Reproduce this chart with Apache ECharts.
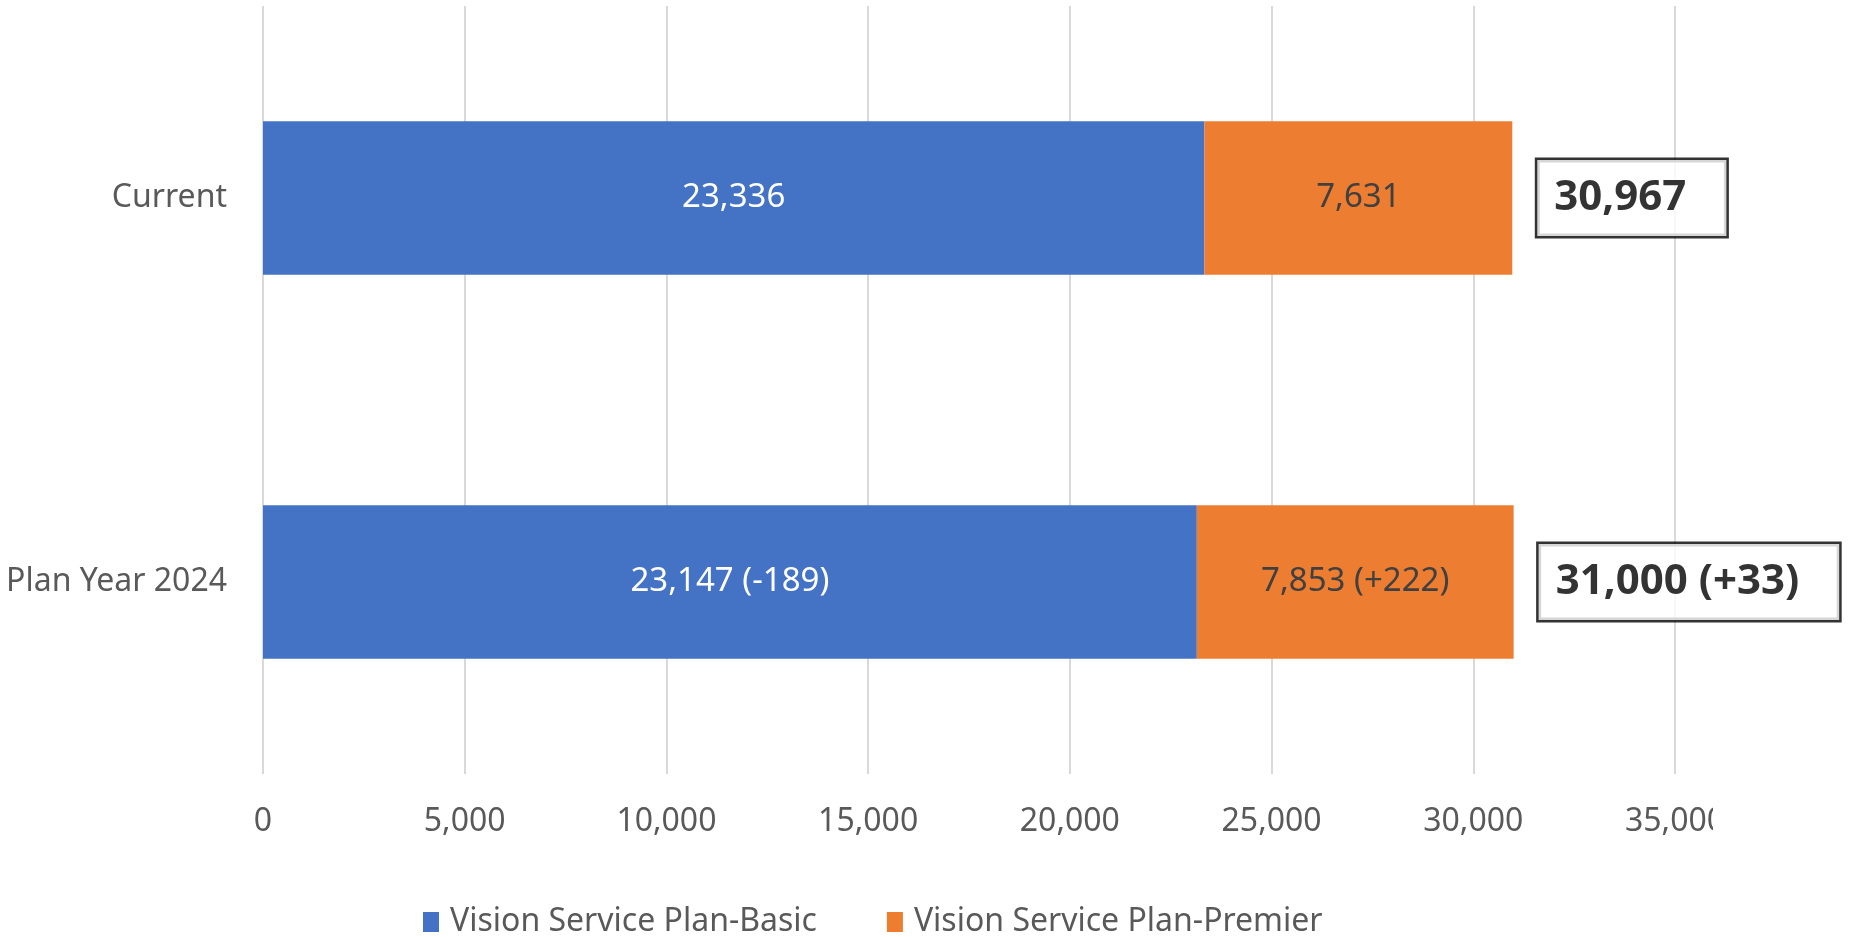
<!DOCTYPE html>
<html>
<head>
<meta charset="utf-8">
<script src="https://cdn.jsdelivr.net/npm/echarts@6/dist/echarts.min.js"></script>
<style>
html,body{margin:0;padding:0;background:#fff;}
#chart{width:1852px;height:937px;}
</style>
</head>
<body>
<div id="chart"></div>
<script>
const categories = ['Current', 'Plan Year 2024'];
const basicValues = [23336, 23147];
const premierValues = [7631, 7853];
const seriesNames = ['Vision Service Plan-Basic', 'Vision Service Plan-Premier'];
const xTicks = [0, 5000, 10000, 15000, 20000, 25000, 30000, 35000];

const fmt = v => v.toLocaleString('en-US');
const delta = (arr, i) => {
  if (i === 0) return '';
  const d = arr[i] - arr[0];
  return ' (' + (d > 0 ? '+' : '') + fmt(d) + ')';
};
const totals = basicValues.map((v, i) => v + premierValues[i]);

const FONT = '"Noto Sans", "Open Sans", sans-serif';
const chart = echarts.init(document.getElementById('chart'));
chart.setOption({
  animation: false,
  backgroundColor: '#ffffff',
  grid: { left: 263, right: 177, top: 6, bottom: 163, containLabel: false },
  legend: {
    data: seriesNames,
    left: 418,
    top: 901,
    icon: 'rect',
    itemWidth: 16,
    itemHeight: 20,
    itemGap: 70,
    textStyle: { fontFamily: FONT, fontSize: 32, color: '#595959', padding: [0, 0, 0, 6] }
  },
  xAxis: {
    type: 'value',
    min: xTicks[0],
    max: xTicks[xTicks.length - 1],
    interval: xTicks[1] - xTicks[0],
    axisLine: { show: false },
    axisTick: { show: false },
    splitLine: { show: true, lineStyle: { color: '#d9d9d9', width: 2 } },
    axisLabel: {
      fontFamily: FONT, fontSize: 32, color: '#595959', margin: 32,
      formatter: v => fmt(v)
    }
  },
  yAxis: {
    type: 'category',
    data: categories,
    inverse: true,
    axisLine: { show: false },
    axisTick: { show: false },
    axisLabel: { fontFamily: FONT, fontSize: 32, color: '#595959', margin: 36 }
  },
  series: [
    {
      name: seriesNames[0],
      type: 'bar',
      stack: 'total',
      barCategoryGap: '60%',
      itemStyle: { color: '#4472C4' },
      label: {
        show: true, position: 'inside', color: '#ffffff',
        fontFamily: FONT, fontSize: 33,
        formatter: p => fmt(p.value) + delta(basicValues, p.dataIndex)
      },
      data: basicValues
    },
    {
      name: seriesNames[1],
      type: 'bar',
      stack: 'total',
      barCategoryGap: '60%',
      itemStyle: { color: '#ED7D31' },
      label: {
        show: true, position: 'inside', color: '#404040',
        fontFamily: FONT, fontSize: 33,
        formatter: p => fmt(p.value) + delta(premierValues, p.dataIndex)
      },
      data: premierValues
    },
    {
      name: 'Total',
      type: 'scatter',
      symbolSize: 0,
      silent: true,
      label: {
        show: true,
        position: 'right',
        distance: 25,
        fontFamily: FONT,
        fontSize: 42,
        fontWeight: 'bold',
        color: '#000000',
        lineHeight: 44,
        backgroundColor: '#ffffff',
        borderColor: '#000000',
        borderWidth: 2.5,
        padding: [16, 40, 16, 17],
        formatter: p => fmt(p.value[0]) + delta(totals, p.dataIndex)
      },
      data: totals.map((t, i) => [t, i])
    }
  ],
  graphic: [
    { type: 'rect', shape: { x: 1713, y: 790, width: 139, height: 70 }, style: { fill: '#ffffff' }, z: 100 }
  ]
});
</script>
</body>
</html>
